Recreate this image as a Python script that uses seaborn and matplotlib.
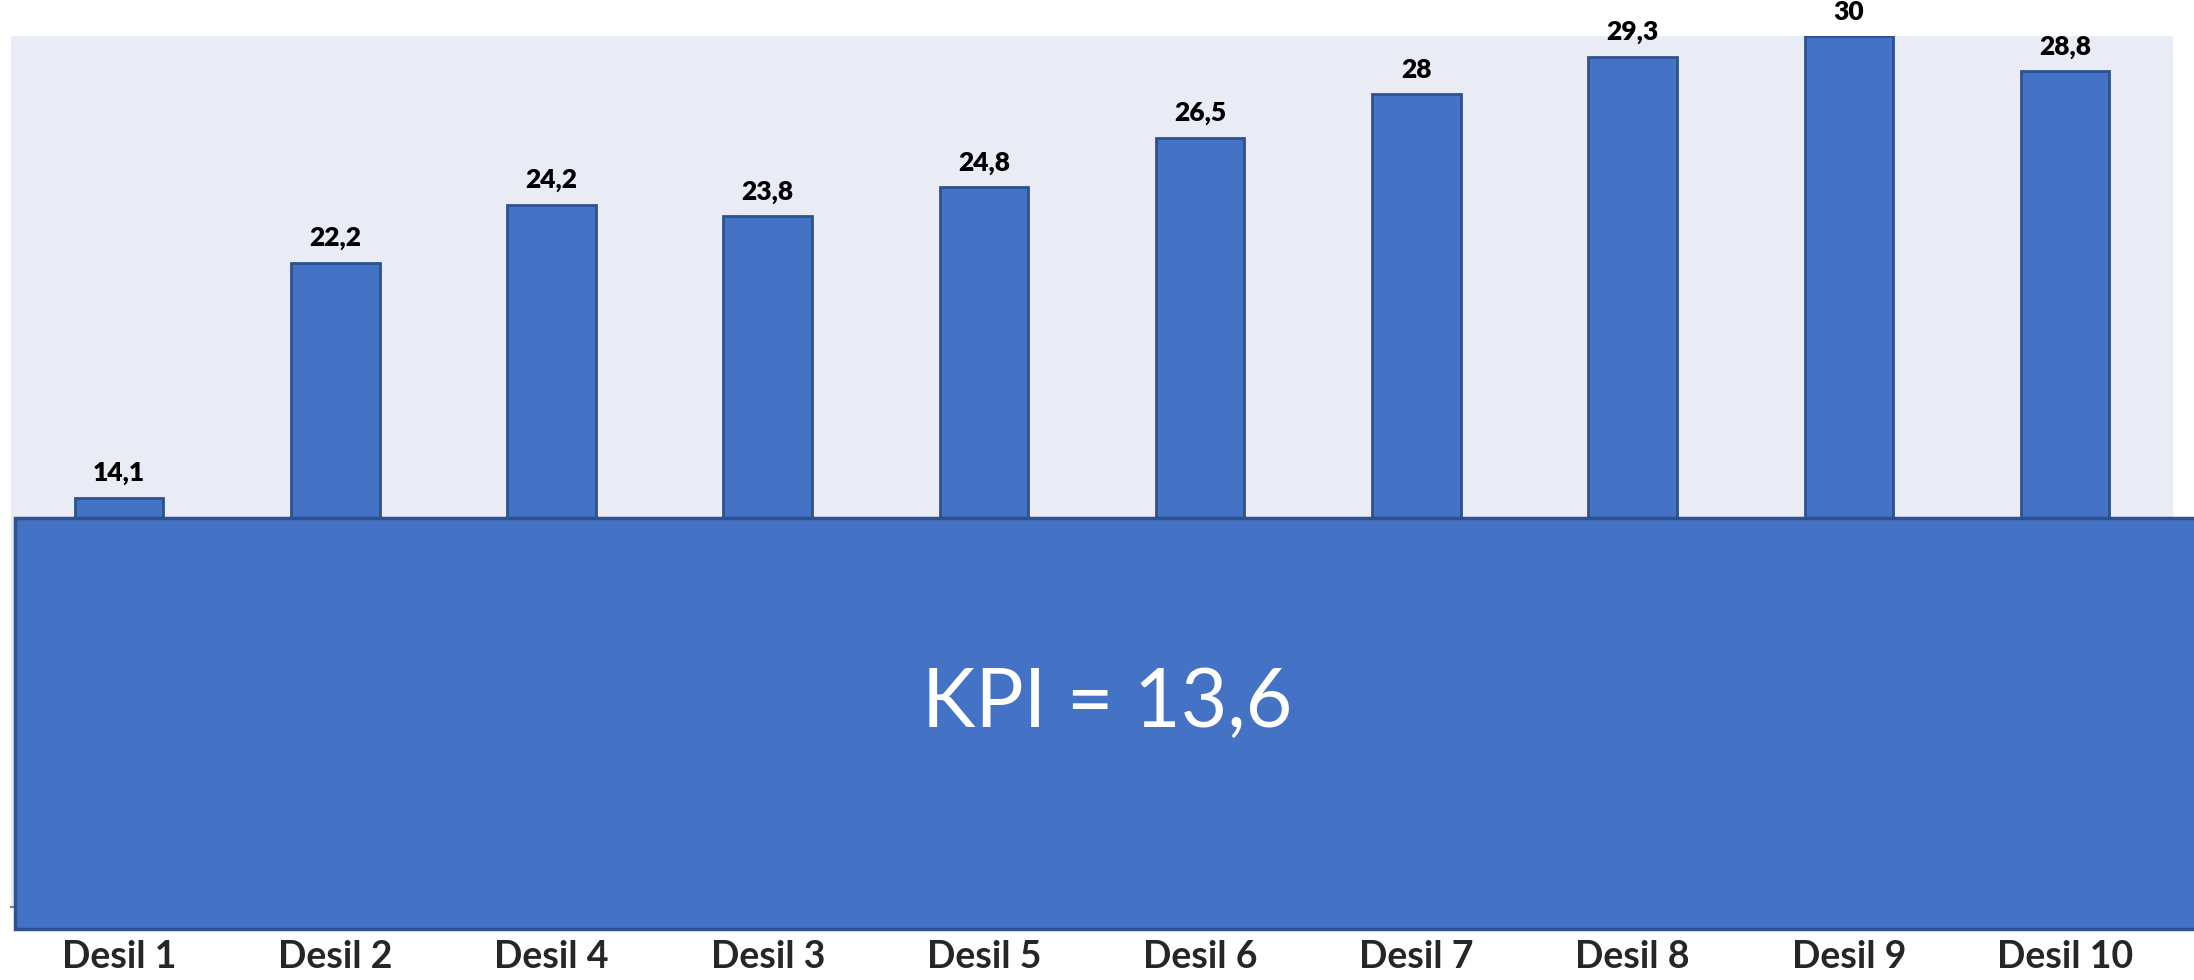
import matplotlib
matplotlib.use("Agg")
import matplotlib.pyplot as plt
import matplotlib.patches as mpatches
import seaborn as sns
import pandas as pd

# Data
categories = ["Desil 1", "Desil 2", "Desil 4", "Desil 3", "Desil 5",
              "Desil 6", "Desil 7", "Desil 8", "Desil 9", "Desil 10"]
values = [14.1, 22.2, 24.2, 23.8, 24.8, 26.5, 28.0, 29.3, 30.0, 28.8]
value_labels = ["14,1", "22,2", "24,2", "23,8", "24,8", "26,5", "28", "29,3", "30", "28,8"]
kpi_label = "KPI = 13,6"
kpi_top = 13.4      # top edge of the KPI block as drawn
kpi_bottom = -0.75  # block runs a little below the axis

BAR_COLOR = "#4472C4"
EDGE_COLOR = "#2F528F"

sns.set_style("white", {"axes.facecolor": "#E9EBF5"})
plt.rcParams["font.family"] = ["Lato", "DejaVu Sans"]

df = pd.DataFrame({"desil": categories, "value": values})

fig = plt.figure(figsize=(21.94, 9.8), dpi=100)
ax = fig.add_axes([0.005, 0.0745, 0.9855, 0.8885])

sns.barplot(data=df, x="desil", y="value", order=categories, color=BAR_COLOR,
            width=0.41, edgecolor=EDGE_COLOR, linewidth=2, saturation=1, ax=ax)

# value labels above the bars
for i, (v, lab) in enumerate(zip(values, value_labels)):
    ax.annotate(lab, (i, v), xytext=(0, 9), textcoords="offset points",
                ha="center", va="bottom", fontsize=19, fontweight="heavy",
                color="black", annotation_clip=False)

ax.set_xlim(-0.5, 9.5)
ax.set_ylim(0, 30)
ax.set_xlabel("")
ax.set_ylabel("")
ax.set_yticks([])
ax.tick_params(axis="x", length=0, pad=24, labelsize=27)
for t in ax.get_xticklabels():
    t.set_fontweight("bold")

for side in ["top", "right", "left"]:
    ax.spines[side].set_visible(False)
ax.spines["bottom"].set_color("#808080")
ax.spines["bottom"].set_linewidth(1.5)

# big KPI block covering the lower part of the chart
block = mpatches.Rectangle((-0.48, kpi_bottom), 11, kpi_top - kpi_bottom,
                           facecolor=BAR_COLOR, edgecolor=EDGE_COLOR, linewidth=2.5,
                           zorder=5, clip_on=False)
ax.add_patch(block)
ax.text(4.57, 7.0, kpi_label, ha="center", va="center", fontsize=58,
        color="white", zorder=6)

plt.savefig("out.png", dpi=100)
